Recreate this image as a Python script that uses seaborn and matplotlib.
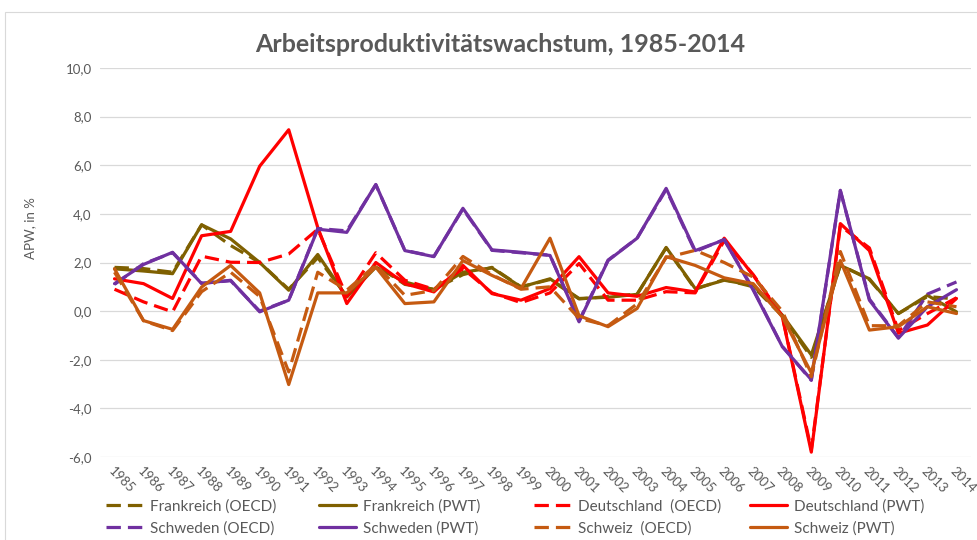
import matplotlib
matplotlib.use("Agg")
import matplotlib.pyplot as plt
import seaborn as sns
from matplotlib.patches import Rectangle

# Data (APW growth in %)
years = list(range(1985, 2015))

frankreich_oecd = [1.8, 1.75, 1.6, 3.55, 2.7, 2.0, 0.9, 2.2, 0.6, 1.9, 1.1, 0.9, 1.5, 1.8, 1.0,
                   1.3, 0.5, 0.6, 0.7, 2.6, 0.9, 1.3, 1.0, -0.2, -1.9, 1.9, 1.3, -0.1, 0.6, 0.5]
frankreich_pwt = [1.74, 1.65, 1.54, 3.55, 2.97, 2.0, 0.86, 2.33, 0.58, 1.81, 1.2, 0.88, 1.6, 1.78, 0.99,
                  1.33, 0.52, 0.57, 0.69, 2.62, 0.93, 1.27, 1.06, -0.16, -1.8, 1.88, 1.33, -0.1, 0.65, -0.03]
deutschland_oecd = [0.9, 0.38, -0.03, 2.26, 2.01, 2.0, 2.35, 3.37, 0.6, 2.4, 1.27, 0.9, 1.75, 0.75, 0.35,
                    0.75, 1.96, 0.45, 0.45, 0.8, 0.75, 2.9, 1.5, -0.2, -5.7, 3.5, 2.6, -0.8, -0.1, 0.55]
deutschland_pwt = [1.33, 1.13, 0.52, 3.1, 3.28, 5.96, 7.46, 3.44, 0.31, 2.0, 1.13, 0.79, 1.88, 0.72, 0.45,
                   0.93, 2.24, 0.75, 0.61, 0.97, 0.79, 3.0, 1.47, -0.23, -5.8, 3.6, 2.49, -0.91, -0.57, 0.52]
schweden_oecd = [1.1, 1.95, 2.4, 1.15, 1.25, 0.0, 0.45, 3.4, 3.3, 5.2, 2.5, 2.25, 4.2, 2.5, 2.4,
                 2.3, -0.4, 2.1, 3.0, 5.0, 2.45, 2.95, 0.9, -1.45, -2.85, 4.95, 0.5, -1.1, 0.7, 1.2]
schweden_pwt = [1.13, 1.92, 2.42, 1.13, 1.27, -0.03, 0.45, 3.37, 3.24, 5.21, 2.49, 2.24, 4.23, 2.52, 2.42,
                2.29, -0.44, 2.08, 3.0, 5.05, 2.49, 2.93, 0.86, -1.46, -2.82, 4.97, 0.45, -1.11, 0.18, 0.88]
schweiz_oecd = [1.6, -0.4, -0.8, 0.8, 1.6, 0.6, -2.5, 1.6, 0.86, 1.9, 0.65, 0.85, 2.25, 1.5, 0.9,
                1.0, -0.3, -0.6, 0.3, 2.2, 2.5, 2.0, 1.4, 0.0, -2.7, 2.45, -0.6, -0.6, 0.38, 0.18]
schweiz_pwt = [1.74, -0.39, -0.75, 0.99, 1.88, 0.75, -3.02, 0.75, 0.75, 1.81, 0.31, 0.38, 2.08, 1.47, 0.93,
               3.0, -0.19, -0.64, 0.11, 2.24, 1.88, 1.37, 1.13, -0.23, -2.54, 2.08, -0.78, -0.64, 0.18, -0.1]

labels = ["Frankreich (OECD)", "Frankreich (PWT)", "Deutschland  (OECD)", "Deutschland (PWT)",
          "Schweden (OECD)", "Schweden (PWT)", "Schweiz  (OECD)", "Schweiz (PWT)"]
series = [frankreich_oecd, frankreich_pwt, deutschland_oecd, deutschland_pwt,
          schweden_oecd, schweden_pwt, schweiz_oecd, schweiz_pwt]
colors = ["#7F6000", "#7F6000", "#FF0000", "#FF0000", "#7030A0", "#7030A0", "#C55A11", "#C55A11"]
dashed = [True, False, True, False, True, False, True, False]

sns.set_style("white")
plt.rcParams["font.family"] = ["Lato", "DejaVu Sans"]
grey = "#595959"

fig = plt.figure(figsize=(9.78, 5.40), dpi=100)
fig.patches.append(Rectangle((5 / 978, -0.1), 1.2, 1.1 - 12 / 540, transform=fig.transFigure,
                             fill=False, edgecolor="#D9D9D9", lw=0.8))
ax = fig.add_axes([100 / 978, 83 / 540, 871 / 978, 389 / 540])

for vals, lab, col, d in zip(series, labels, colors, dashed):
    ls = (0, (4.5, 2.2)) if d else "-"
    sns.lineplot(x=years, y=vals, ax=ax, color=col, linestyle=ls, lw=2.3, label=lab)

ax.set_xlim(1984.5, 2014.5)
ax.set_ylim(-6, 10)
ax.set_yticks(range(-6, 11, 2))
ax.set_yticklabels([f"{v:.1f}".replace(".", ",") for v in range(-6, 11, 2)], color=grey, fontsize=9.5)
ax.set_xticks(years)
ax.set_xticklabels([str(y) for y in years], rotation=-45, ha="left", va="top",
                   rotation_mode="anchor", color=grey, fontsize=9.5)
ax.tick_params(axis="both", length=0, pad=6)
ax.tick_params(axis="x", pad=6)
ax.grid(axis="y", color="#D9D9D9", lw=0.9)
ax.set_axisbelow(True)
for s in ax.spines.values():
    s.set_visible(False)
ax.set_xlabel("")
ax.set_ylabel("")
fig.text(30 / 978, 1 - 228 / 540, "APW, in %", rotation=90, ha="center", va="center",
         color=grey, fontsize=9.5)
fig.text(500 / 978, 1 - 44 / 540, "Arbeitsproduktivitätswachstum, 1985-2014", ha="center", va="center",
         color=grey, fontsize=18, fontweight="bold")

# legend: 4 columns, fixed slots like Excel
handles, labs = ax.get_legend_handles_labels()
ax.get_legend().remove()
col_x = [106, 319, 534, 750]
for i, cx in enumerate(col_x):
    lg = fig.legend([handles[i], handles[i + 4]], [labs[i], labs[i + 4]],
                    loc="upper left", bbox_to_anchor=(cx / 978, 1 - 499 / 540),
                    frameon=False, fontsize=11, handlelength=2.4, handletextpad=0.45,
                    borderpad=0, borderaxespad=0, labelspacing=0.5)
    for t in lg.get_texts():
        t.set_color(grey)

fig.savefig("out.png", dpi=100)
